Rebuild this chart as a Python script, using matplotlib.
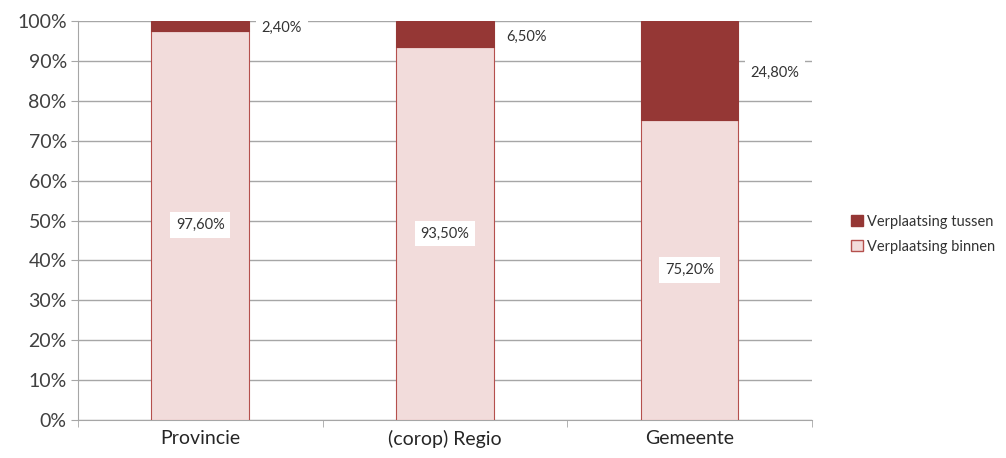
import numpy as np
import matplotlib.pyplot as plt
from matplotlib.patches import Patch

plt.rcParams['font.family'] = ['Lato', 'DejaVu Sans']

# Data (percentages)
categories = ['Provincie', '(corop) Regio', 'Gemeente']
binnen = [97.6, 93.5, 75.2]
tussen = [2.4, 6.5, 24.8]
binnen_labels = ['97,60%', '93,50%', '75,20%']
tussen_labels = ['2,40%', '6,50%', '24,80%']

dark_red = '#953735'
light_pink = '#f2dcdb'
edge_red = '#b5504d'
grid_gray = '#a6a6a6'

fig = plt.figure(figsize=(10.06, 4.58), dpi=100)
ax = fig.add_axes([0.0775, 0.083, 0.7295, 0.871])

x = np.arange(len(categories))
width = 0.4
ax.bar(x, binnen, width, color=light_pink, edgecolor=edge_red, linewidth=0.8, zorder=3)
ax.bar(x, tussen, width, bottom=binnen, color=dark_red, edgecolor=dark_red,
       linewidth=0.8, zorder=3)

# labels inside the lower segment
for xi, b, lab in zip(x, binnen, binnen_labels):
    ax.text(xi, b / 2, lab, ha='center', va='center', fontsize=10.5, color='#333333',
            zorder=5, bbox=dict(boxstyle='square,pad=0.4', fc='white', ec='none'))

# labels for the top segment, placed right of the bar
for xi, b, t, lab in zip(x, binnen, tussen, tussen_labels):
    ax.text(xi + width / 2 + 0.05, b + t / 2 - 0.6, lab, ha='left', va='center',
            fontsize=10.5, color='#333333', zorder=5,
            bbox=dict(boxstyle='square,pad=0.4', fc='white', ec='none'))

ax.set_xlim(-0.5, 2.5)
ax.set_ylim(0, 100)
ax.set_yticks(np.arange(0, 101, 10))
ax.set_yticklabels([f'{v}%' for v in range(0, 101, 10)], fontsize=14, color='#404040')
ax.set_xticks(x)
ax.set_xticklabels(categories, fontsize=14, color='#262626')
ax.set_xticks([-0.5, 0.5, 1.5, 2.5], minor=True)
ax.tick_params(axis='x', which='major', length=0, pad=7)
ax.tick_params(axis='x', which='minor', length=5, color=grid_gray, direction='out')
ax.tick_params(axis='y', length=5, color=grid_gray, direction='out', pad=3)

ax.grid(axis='y', color=grid_gray, linewidth=1, zorder=0)
for side in ['top', 'right']:
    ax.spines[side].set_visible(False)
ax.spines['left'].set_color(grid_gray)
ax.spines['bottom'].set_color(grid_gray)

handles = [Patch(facecolor=dark_red, edgecolor=dark_red, label='Verplaatsing tussen'),
           Patch(facecolor=light_pink, edgecolor=edge_red, label='Verplaatsing binnen')]
fig.legend(handles=handles, loc='upper left', bbox_to_anchor=(0.833, 0.56), frameon=False,
           fontsize=10.5, handlelength=0.8, handleheight=0.8, handletextpad=0.3,
           labelspacing=0.75, labelcolor='#333333')

fig.savefig('out.png', dpi=100)
